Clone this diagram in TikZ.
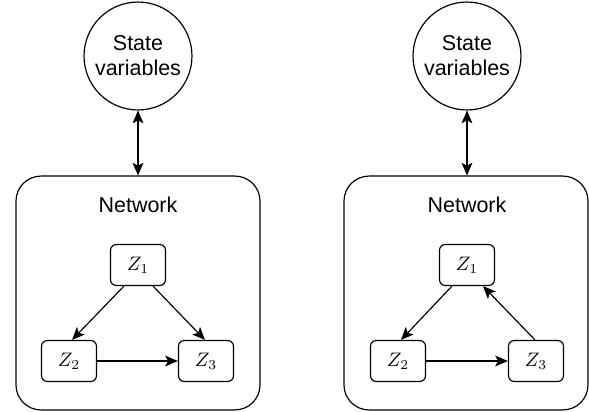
\documentclass[tikz,border=0pt]{standalone}
\usepackage[no-math]{fontspec}
\setmainfont{Liberation Sans}
\usetikzlibrary{arrows.meta,calc}
\begin{document}
\begin{tikzpicture}[x=0.018cm,y=-0.018cm,line width=0.6pt,
  state/.style={draw,circle,minimum size=55.3pt,inner sep=0pt,align=center,font=\fontsize{11}{12.8}\selectfont},
  net/.style={draw,rounded corners=12.8pt,minimum width=125pt,minimum height=119.8pt},
  var/.style={draw,rounded corners=3pt,minimum width=28.2pt,minimum height=21pt},
  lbl/.style={font=\fontsize{11}{13}\selectfont},
  arr/.style={-{Stealth[length=6.5pt,width=5.5pt,inset=1.5pt]}},
  biarr/.style={{Stealth[length=6.5pt,width=5.5pt,inset=1.5pt]}-{Stealth[length=6.5pt,width=5.5pt,inset=1.5pt]}}]
\useasboundingbox (0,0) rectangle (589,412);
% left: acyclic network
\node[state] (sv1) at (138,56) {State\\variables};
\node[net] (net1) at (138,293) {}; \node[lbl] (lb1) at (138,205) {Network};
\node[var] (za1) at (138,265) {$Z_1$}; \node[var] (za2) at (69,361) {$Z_2$}; \node[var] (za3) at (206,361) {$Z_3$};
\draw[biarr] (sv1) -- (sv1 |- net1.north);
\draw[arr] ($(za1.south)+(-14,0)$) -- ($(za2.north)+(3,0)$); \draw[arr] ($(za1.south)+(15,0)$) -- ($(za3.north)+(-1,0)$);
\draw[arr] (za2) -- (za3);
% right: cyclic network
\node[state] (sv2) at (467,56) {State\\variables};
\node[net] (net2) at (466,293) {}; \node[lbl] (lb2) at (467,205) {Network};
\node[var] (zb1) at (467,265) {$Z_1$}; \node[var] (zb2) at (398,361) {$Z_2$}; \node[var] (zb3) at (536,361) {$Z_3$};
\draw[biarr] (sv2) -- (sv2 |- net2.north);
\draw[arr] ($(zb1.south)+(-15,0)$) -- ($(zb2.north)+(3,0)$); \draw[arr] ($(zb3.north)+(-1,0)$) -- ($(zb1.south)+(16,0)$);
\draw[arr] (zb2) -- (zb3);
\end{tikzpicture}
\end{document}
